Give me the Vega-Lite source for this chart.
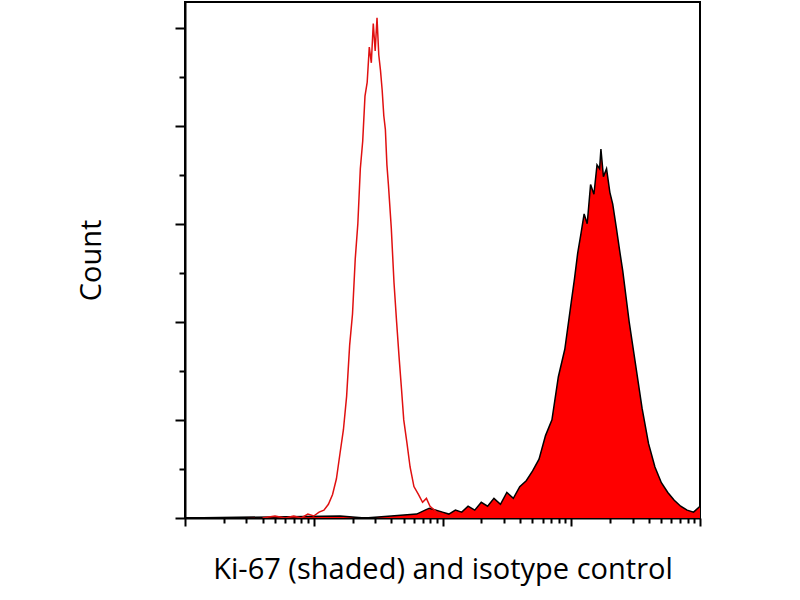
{
"$schema":"https://vega.github.io/schema/vega-lite/v6.json",
"width":515,"height":516,
"autosize":{"type":"none"},
"padding":{"left":185,"top":2,"right":100,"bottom":82},
"config":{"view":{"stroke":"black","strokeWidth":2},"font":"Open Sans"},
"datasets":{
"iso":[{"x":4,"c":0},{"x":5,"c":1},{"x":6,"c":0},{"x":7,"c":1},{"x":8,"c":0},{"x":9,"c":2},{"x":10,"c":1},{"x":11,"c":3},{"x":12,"c":4},{"x":13,"c":7},{"x":14,"c":12},{"x":15,"c":20},{"x":16,"c":33},{"x":17,"c":45},{"x":18,"c":62},{"x":19,"c":88},{"x":20,"c":104},{"x":21,"c":132},{"x":22,"c":150},{"x":23,"c":178},{"x":24,"c":192},{"x":25,"c":215},{"x":26,"c":222},{"x":27,"c":240},{"x":28,"c":232},{"x":29,"c":252},{"x":30,"c":238},{"x":31,"c":255},{"x":32,"c":236},{"x":33,"c":228},{"x":34,"c":218},{"x":35,"c":205},{"x":36,"c":198},{"x":37,"c":180},{"x":38,"c":170},{"x":40,"c":148},{"x":42,"c":120},{"x":44,"c":100},{"x":46,"c":82},{"x":48,"c":66},{"x":50,"c":50},{"x":53,"c":38},{"x":56,"c":26},{"x":60,"c":16},{"x":65,"c":12},{"x":70,"c":8},{"x":75,"c":10},{"x":80,"c":6},{"x":90,"c":3},{"x":100,"c":1},{"x":120,"c":0},{"x":160,"c":0}],
"ki":[{"x":1,"c":0},{"x":16,"c":1},{"x":25,"c":0},{"x":40,"c":1},{"x":63,"c":2},{"x":79,"c":5},{"x":100,"c":3},{"x":112,"c":2},{"x":126,"c":4},{"x":141,"c":3},{"x":158,"c":6},{"x":178,"c":4},{"x":200,"c":8},{"x":224,"c":6},{"x":251,"c":10},{"x":282,"c":7},{"x":316,"c":13},{"x":355,"c":10},{"x":398,"c":16},{"x":447,"c":19},{"x":501,"c":24},{"x":562,"c":30},{"x":631,"c":42},{"x":708,"c":50},{"x":794,"c":72},{"x":891,"c":86},{"x":1000,"c":110},{"x":1060,"c":122},{"x":1122,"c":135},{"x":1190,"c":145},{"x":1259,"c":155},{"x":1330,"c":150},{"x":1413,"c":170},{"x":1500,"c":165},{"x":1585,"c":180},{"x":1660,"c":178},{"x":1700,"c":188},{"x":1778,"c":174},{"x":1880,"c":178},{"x":1995,"c":166},{"x":2100,"c":160},{"x":2239,"c":148},{"x":2380,"c":136},{"x":2512,"c":126},{"x":2818,"c":100},{"x":3162,"c":78},{"x":3548,"c":56},{"x":3981,"c":38},{"x":4467,"c":26},{"x":5012,"c":18},{"x":5623,"c":13},{"x":6310,"c":9},{"x":7079,"c":6},{"x":7943,"c":4},{"x":8913,"c":3},{"x":9999,"c":6}]
},
"encoding":{
"x":{"field":"x","type":"quantitative","scale":{"type":"log","domain":[1,10000]},"axis":null},
"y":{"field":"c","type":"quantitative","scale":{"domain":[0,263]},"axis":null}
},
"layer":[
{"data":{"name":"ki"},"mark":{"type":"area","color":"#ff0000","clip":true},
"encoding":{
"x":{"field":"x","type":"quantitative","scale":{"type":"log","domain":[1,10000]},"axis":{"orient":"bottom","values":[1,10,100,1000,10000],"labels":false,"grid":false,"tickSize":8,"tickWidth":2,"tickColor":"black","domainColor":"black","domainWidth":2,"title":"Ki-67 (shaded) and isotype control","titleFontSize":29,"titleFontWeight":"normal","titleColor":"black","titlePadding":28}},
"y":{"field":"c","type":"quantitative","scale":{"domain":[0,263]},"axis":{"orient":"left","values":[0,50,100,150,200,250],"labels":false,"grid":false,"tickSize":10,"tickWidth":2,"tickColor":"black","domainColor":"black","domainWidth":2,"title":"Count","titleFontSize":29,"titleFontWeight":"normal","titleColor":"black","titlePadding":68}}
}},
{"data":{"name":"ki"},"mark":{"type":"line","color":"black","strokeWidth":1.5,"clip":true},"encoding":{}},
{"data":{"name":"iso"},"mark":{"type":"line","color":"#e01010","strokeWidth":1.5,"clip":true},"encoding":{}},
{"data":{"values":[{"x":1,"c":0}]},"mark":{"type":"point","opacity":0},
"encoding":{
"x":{"field":"x","type":"quantitative","scale":{"type":"log","domain":[1,10000]},"axis":{"orient":"bottom","values":[2,3,4,5,6,7,8,9,20,30,40,50,60,70,80,90,200,300,400,500,600,700,800,900,2000,3000,4000,5000,6000,7000,8000,9000],"labels":false,"grid":false,"domain":false,"tickSize":5,"tickWidth":2,"tickColor":"black","title":null}},
"y":{"field":"c","type":"quantitative","scale":{"domain":[0,263]},"axis":{"orient":"left","values":[25,75,125,175,225],"labels":false,"grid":false,"domain":false,"tickSize":6,"tickWidth":2,"tickColor":"black","title":null}}
}}
],
"resolve":{"axis":{"x":"independent","y":"independent"}}
}
